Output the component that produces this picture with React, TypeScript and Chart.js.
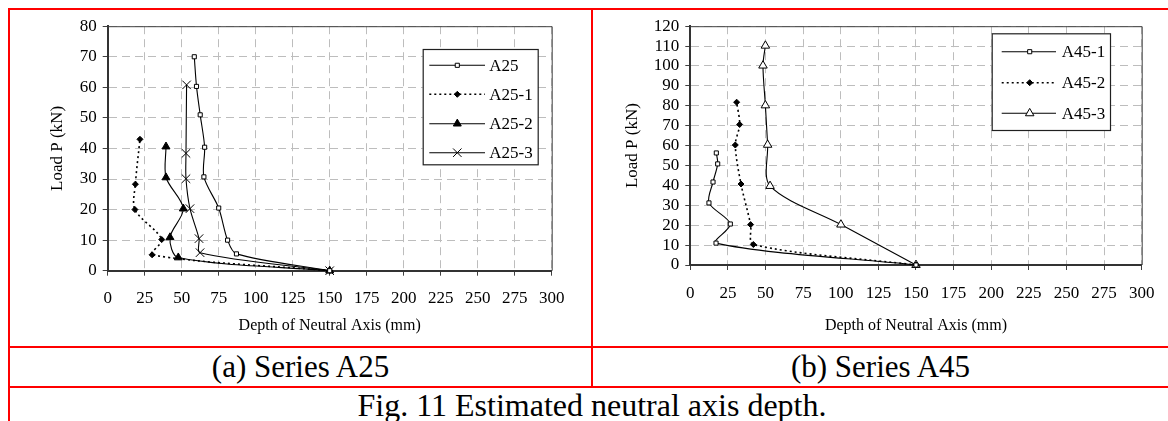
import React, { useEffect, useRef } from "react";
import { Chart, registerables } from "chart.js";

Chart.register(...registerables);

const FONT = "'Liberation Serif', 'Times New Roman', serif";

// ---------- data ----------
const depthTicksMax = 300;
const depthTickStep = 25;
const loadMaxA25 = 80;
const loadMaxA45 = 120;
const loadTickStep = 10;

const xAxisTitle = "Depth of Neutral Axis (mm)";
const yAxisTitle = "Load P (kN)";

const a25Names = ["A25", "A25-1", "A25-2", "A25-3"];
const a45Names = ["A45-1", "A45-2", "A45-3"];

// Series A25
const a25Depth = [150, 87, 81, 75, 65, 65.5, 62.5, 60, 58.5];
const a25Load = [0, 5.5, 10, 20.5, 30.7, 40.4, 51, 60.3, 70];
const a25_1Depth = [150, 30, 36.5, 18.4, 18.7, 21.8];
const a25_1Load = [0, 5.2, 10.2, 20, 28.3, 43];
const a25_2Depth = [150, 47.7, 42.1, 51.1, 39.4, 39.4];
const a25_2Load = [0, 4.3, 10.9, 20.3, 30.5, 40.6];
const a25_3Depth = [150, 62.4, 61.7, 55.6, 52.9, 52.9, 53.3];
const a25_3Load = [0, 5.9, 10.5, 20.3, 30.1, 38.4, 60.8];

// Series A45
const a45_1Depth = [150, 17.1, 26.6, 12.4, 15.1, 18.2, 17.3];
const a45_1Load = [0, 11, 20.6, 31.2, 41.7, 50.8, 56.3];
const a45_2Depth = [150, 41.9, 40.1, 33.7, 29.9, 32.8, 30.8];
const a45_2Load = [0, 10.3, 20.3, 40.7, 60.3, 70.6, 81.8];
const a45_3Depth = [150, 100.1, 53, 51.4, 49.9, 48.3, 49.9];
const a45_3Load = [0, 20.3, 39.7, 60.4, 80.2, 100.2, 110.2];

const captionA = "(a) Series A25";
const captionB = "(b) Series A45";
const figCaption = "Fig. 11 Estimated neutral axis depth.";

// ---------- styles ----------
type SeriesStyle = {
  point: string;
  radius: number;
  fill: string;
  dash: number[];
  width: number;
};

const squareOpen: SeriesStyle = { point: "rect", radius: 2.9, fill: "#ffffff", dash: [], width: 1.1 };
const diamondDotted: SeriesStyle = { point: "rectRot", radius: 3, fill: "#000000", dash: [2, 3], width: 1.6 };
const triFilled: SeriesStyle = { point: "triangle", radius: 4.6, fill: "#000000", dash: [], width: 1.1 };
const crossX: SeriesStyle = { point: "crossRot", radius: 6, fill: "#000000", dash: [], width: 1.1 };
const triOpen: SeriesStyle = { point: "triangle", radius: 4.9, fill: "#ffffff", dash: [], width: 1.1 };

function pts(xs: number[], ys: number[]) {
  return xs.map((x, i) => ({ x, y: ys[i] }));
}

function makeDataset(label: string, data: { x: number; y: number }[], s: SeriesStyle) {
  return {
    label,
    data,
    showLine: true,
    borderColor: "#000000",
    borderWidth: s.width,
    borderDash: s.dash,
    tension: 0.3,
    pointStyle: s.point,
    pointRadius: s.radius,
    pointBackgroundColor: s.fill,
    pointBorderColor: "#000000",
    pointBorderWidth: 1,
    clip: false,
  };
}

function drawMarker(ctx: CanvasRenderingContext2D, s: SeriesStyle, x: number, y: number) {
  const r = s.radius;
  ctx.save();
  ctx.setLineDash([]);
  ctx.lineWidth = 1;
  ctx.strokeStyle = "#000";
  ctx.fillStyle = s.fill;
  ctx.beginPath();
  if (s.point === "rect") {
    const h = r * Math.SQRT1_2;
    ctx.rect(x - h, y - h, 2 * h, 2 * h);
    ctx.fill();
    ctx.stroke();
  } else if (s.point === "rectRot") {
    ctx.moveTo(x - r, y);
    ctx.lineTo(x, y - r);
    ctx.lineTo(x + r, y);
    ctx.lineTo(x, y + r);
    ctx.closePath();
    ctx.fill();
    ctx.stroke();
  } else if (s.point === "triangle") {
    ctx.moveTo(x, y - r);
    ctx.lineTo(x + 0.866 * r, y + 0.5 * r);
    ctx.lineTo(x - 0.866 * r, y + 0.5 * r);
    ctx.closePath();
    ctx.fill();
    ctx.stroke();
  } else if (s.point === "crossRot") {
    const o = r * Math.SQRT1_2;
    ctx.moveTo(x - o, y - o);
    ctx.lineTo(x + o, y + o);
    ctx.moveTo(x + o, y - o);
    ctx.lineTo(x - o, y + o);
    ctx.stroke();
  }
  ctx.restore();
}

type PanelCfg = {
  left: number;
  top: number;
  w: number;
  h: number;
  yMax: number;
  yAxisW: number;
  xAxisH: number;
  padTop: number;
  padRight: number;
  xTitleY: number;
  yTitleX: number;
  names: string[];
  series: { x: number; y: number }[][];
  styles: SeriesStyle[];
  legend: { x: number; y: number; w: number; h: number; rows: number[]; l1: number; l2: number; mx: number; tx: number };
};

function decorPlugin(cfg: PanelCfg) {
  return {
    id: "decor",
    afterDraw(chart: any) {
      const ctx: CanvasRenderingContext2D = chart.ctx;
      const ca = chart.chartArea;
      ctx.save();
      // top/right frame of plot area
      ctx.setLineDash([]);
      ctx.strokeStyle = "#404040";
      ctx.lineWidth = 1;
      ctx.beginPath();
      ctx.moveTo(ca.left, ca.top + 0.5);
      ctx.lineTo(ca.right + 0.5, ca.top + 0.5);
      ctx.lineTo(ca.right + 0.5, ca.bottom);
      ctx.stroke();

      // axis titles
      ctx.fillStyle = "#000";
      ctx.textAlign = "center";
      ctx.textBaseline = "middle";
      ctx.font = `16px ${FONT}`;
      ctx.fillText(xAxisTitle, (ca.left + ca.right) / 2, cfg.xTitleY);
      ctx.save();
      ctx.translate(cfg.yTitleX, (ca.top + ca.bottom) / 2);
      ctx.rotate(-Math.PI / 2);
      ctx.font = `17px ${FONT}`;
      ctx.fillText(yAxisTitle, 0, 0);
      ctx.restore();

      // legend
      const L = cfg.legend;
      ctx.fillStyle = "#ffffff";
      ctx.fillRect(L.x, L.y, L.w, L.h);
      ctx.strokeStyle = "#202020";
      ctx.lineWidth = 1.2;
      ctx.strokeRect(L.x + 0.5, L.y + 0.5, L.w, L.h);
      cfg.names.forEach((name, i) => {
        const s = cfg.styles[i];
        const y = L.rows[i];
        ctx.save();
        ctx.strokeStyle = "#000";
        ctx.lineWidth = s.width;
        ctx.setLineDash(s.dash);
        ctx.beginPath();
        ctx.moveTo(L.l1, y);
        ctx.lineTo(L.l2, y);
        ctx.stroke();
        ctx.restore();
        drawMarker(ctx, s, L.mx, y);
        ctx.fillStyle = "#000";
        ctx.textAlign = "left";
        ctx.textBaseline = "middle";
        ctx.font = `17px ${FONT}`;
        ctx.fillText(name, L.tx, y + 1);
      });
      ctx.restore();
    },
  };
}

function buildConfig(cfg: PanelCfg): any {
  const tickFont = { family: FONT, size: 17 };
  return {
    type: "scatter",
    data: {
      datasets: cfg.series.map((d, i) => makeDataset(cfg.names[i], d, cfg.styles[i])),
    },
    options: {
      animation: false,
      responsive: false,
      maintainAspectRatio: false,
      events: [],
      layout: { padding: { left: 0, right: cfg.padRight, top: cfg.padTop, bottom: 0 } },
      plugins: { legend: { display: false }, tooltip: { enabled: false } },
      scales: {
        x: {
          type: "linear",
          min: 0,
          max: depthTicksMax,
          afterFit: (s: any) => {
            s.height = cfg.xAxisH;
          },
          ticks: {
            stepSize: depthTickStep,
            color: "#000",
            font: tickFont,
            padding: 13,
            maxRotation: 0,
            autoSkip: false,
          },
          grid: {
            color: "#bdbdbd",
            lineWidth: 1,
            tickLength: 5,
            tickColor: "#404040",
            tickWidth: 1,
          },
          border: { display: true, color: "#333333", width: 2, dash: [8, 5] },
        },
        y: {
          type: "linear",
          min: 0,
          max: cfg.yMax,
          afterFit: (s: any) => {
            s.width = cfg.yAxisW;
          },
          ticks: {
            stepSize: loadTickStep,
            color: "#000",
            font: tickFont,
            padding: 6,
            autoSkip: false,
          },
          grid: {
            color: "#bdbdbd",
            lineWidth: 1,
            tickLength: 5,
            tickColor: "#404040",
            tickWidth: 1,
          },
          border: { display: true, color: "#333333", width: 2, dash: [8, 5] },
        },
      },
    },
    plugins: [decorPlugin(cfg)],
  };
}

function ChartPanel({ cfg }: { cfg: PanelCfg }) {
  const ref = useRef<HTMLCanvasElement | null>(null);
  useEffect(() => {
    if (!ref.current) return;
    const chart = new Chart(ref.current, buildConfig(cfg));
    return () => chart.destroy();
  }, []);
  return (
    <canvas
      ref={ref}
      width={cfg.w}
      height={cfg.h}
      style={{ position: "absolute", left: cfg.left, top: cfg.top, width: cfg.w, height: cfg.h }}
    />
  );
}

const leftCfg: PanelCfg = {
  left: 10,
  top: 10,
  w: 580,
  h: 335,
  yMax: loadMaxA25,
  yAxisW: 97.7,
  xAxisH: 74.3,
  padTop: 11.3,
  padRight: 38.3,
  xTitleY: 316,
  yTitleX: 48,
  names: a25Names,
  series: [pts(a25Depth, a25Load), pts(a25_1Depth, a25_1Load), pts(a25_2Depth, a25_2Load), pts(a25_3Depth, a25_3Load)],
  styles: [squareOpen, diamondDotted, triFilled, crossX],
  legend: { x: 412.7, y: 39, w: 115, h: 115.3, rows: [55.3, 84.3, 113.7, 142.7], l1: 419.3, l2: 475, mx: 447.3, tx: 479.3 },
};

const rightCfg: PanelCfg = {
  left: 594,
  top: 10,
  w: 574,
  h: 335,
  yMax: loadMaxA45,
  yAxisW: 96.3,
  xAxisH: 80,
  padTop: 14,
  padRight: 26.3,
  xTitleY: 316,
  yTitleX: 38.5,
  names: a45Names,
  series: [pts(a45_1Depth, a45_1Load), pts(a45_2Depth, a45_2Load), pts(a45_3Depth, a45_3Load)],
  styles: [squareOpen, diamondDotted, triOpen],
  legend: { x: 397.7, y: 23.3, w: 118.3, h: 96.7, rows: [41.7, 72.7, 103.3], l1: 407.7, l2: 462, mx: 435.7, tx: 467.7 },
};

const RED = "#ff0000";

function Line({ x, y, w, h }: { x: number; y: number; w: number; h: number }) {
  return <div style={{ position: "absolute", left: x, top: y, width: w, height: h, background: RED }} />;
}

export default function App() {
  const captionStyle: React.CSSProperties = {
    position: "absolute",
    fontFamily: FONT,
    fontSize: 31,
    color: "#000",
    textAlign: "center",
    whiteSpace: "nowrap",
  };
  return (
    <div
      style={{
        position: "absolute",
        left: 0,
        top: 0,
        width: 1168,
        height: 421,
        background: "#ffffff",
        overflow: "hidden",
      }}
    >
      <ChartPanel cfg={leftCfg} />
      <ChartPanel cfg={rightCfg} />
      {/* table borders */}
      <Line x={8} y={8} w={1160} h={2} />
      <Line x={8} y={8} w={2} h={413} />
      <Line x={591} y={8} w={2} h={380} />
      <Line x={8} y={346} w={1160} h={2} />
      <Line x={8} y={386} w={1160} h={2} />
      {/* captions */}
      <div style={{ ...captionStyle, left: 10, width: 581, top: 348, height: 38, lineHeight: "38px" }}>{captionA}</div>
      <div style={{ ...captionStyle, left: 593, width: 575, top: 348, height: 38, lineHeight: "38px" }}>{captionB}</div>
      <div style={{ ...captionStyle, fontSize: 32, left: 9, width: 1166, top: 388, height: 33, lineHeight: "34px" }}>{figCaption}</div>
    </div>
  );
}
